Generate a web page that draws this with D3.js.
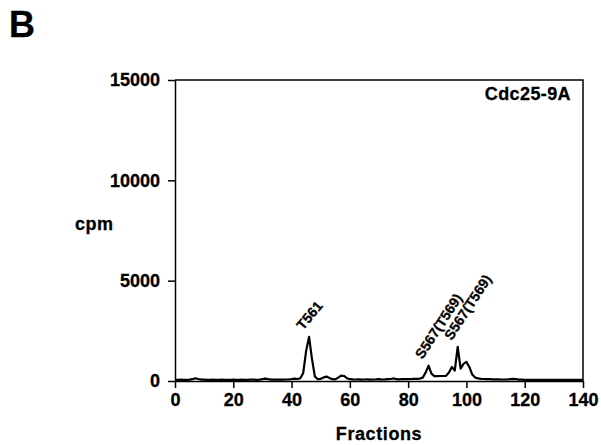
<!DOCTYPE html>
<meta charset="utf-8">
<style>
body { margin: 0; background: #fff; }
text { font-family: "Liberation Sans", Arial, sans-serif; font-weight: bold; fill: #000; stroke: #000; stroke-width: 0.3px; }
.axis path, .axis line { stroke: #000; stroke-width: 1.5px; }
.trace { fill: none; stroke: #000; stroke-width: 2.2px; stroke-linejoin: round; }
</style>
<svg width="601" height="445"></svg>
<script src="https://d3js.org/d3.v7.min.js"></script>
<script>
// cpm per fraction, fractions 0..140
var fractions = d3.range(0, 141);
var cpm = [
  60, 60, 65, 60, 60, 65, 90, 140, 100, 70,
  65, 60, 60, 65, 60, 60, 65, 60, 60, 60,
  65, 60, 60, 65, 60, 60, 65, 65, 60, 70,
  90, 120, 90, 70, 70, 65, 70, 70, 75, 80,
  90, 120, 100, 140, 400, 1500, 2200, 1100, 220, 90,
  110, 180, 220, 150, 90, 80, 170, 270, 250, 140,
  90, 80, 75, 80, 70, 75, 80, 70, 75, 80,
  90, 75, 80, 90, 100, 130, 90, 80, 100, 90,
  90, 100, 110, 110, 120, 170, 420, 760, 370, 240,
  240, 250, 250, 260, 420, 700, 520, 1700, 620, 850,
  950, 700, 320, 170, 130, 110, 100, 90, 90, 80,
  80, 80, 75, 75, 80, 90, 110, 90, 70, 65,
  60, 60, 60, 60, 60, 60, 60, 60, 60, 60,
  60, 60, 60, 60, 60, 60, 60, 60, 60, 60,
  60
];
var xTicks = [0, 20, 40, 60, 80, 100, 120, 140];
var yTicks = [0, 5000, 10000, 15000];
var peakLabels = ["T561", "S567(T569)", "S567(T569)"];
var peakFractions = [46, 87, 97];
var peakAngles = [-50, -57, -57];

var svg = d3.select("svg"),
    margin = {top: 80, right: 18, bottom: 64, left: 175},
    width = svg.attr("width") - margin.left - margin.right,
    height = svg.attr("height") - margin.top - margin.bottom,
    g = svg.append("g").attr("transform", "translate(" + margin.left + "," + margin.top + ")");

var x = d3.scaleLinear().domain([0, 140]).range([0, width]),
    y = d3.scaleLinear().domain([0, 15000]).range([height, 0]);

svg.append("text")
    .attr("x", 9)
    .attr("y", 37)
    .style("font-size", "36px")
    .text("B");

// frame top and right
g.append("path")
    .attr("d", "M0,0H" + width + "V" + height)
    .attr("fill", "none")
    .attr("stroke", "#000")
    .attr("stroke-width", 1.5);

g.append("g")
    .attr("class", "axis")
    .attr("transform", "translate(0," + height + ")")
    .call(d3.axisBottom(x).tickValues(xTicks).tickSize(7).tickSizeOuter(0).tickPadding(5));

g.append("g")
    .attr("class", "axis")
    .call(d3.axisLeft(y).tickValues(yTicks).tickSize(7).tickSizeOuter(0).tickPadding(8).tickFormat(d3.format("d")));

g.selectAll(".axis text")
    .attr("fill", "#000")
    .style("font-size", "18px");

var line = d3.line()
    .x(function(d, i) { return x(fractions[i]); })
    .y(function(d) { return y(d); });

g.append("path")
    .attr("class", "trace")
    .attr("d", line(cpm));

g.selectAll(".peak")
    .data(peakFractions)
  .enter().append("text")
    .attr("class", "peak")
    .attr("transform", function(d, i) {
        return "translate(" + (x(d) - 6) + "," + (y(cpm[d]) - 6) + ") rotate(" + peakAngles[i] + ")";
    })
    .style("font-size", "14px")
    .text(function(d, i) { return peakLabels[i]; });

g.append("text")
    .attr("x", width - 12)
    .attr("y", 20)
    .attr("text-anchor", "end")
    .style("font-size", "18px")
    .style("letter-spacing", "0.4px")
    .text("Cdc25-9A");

svg.append("text")
    .attr("x", 75)
    .attr("y", 230)
    .style("font-size", "18px")
    .style("letter-spacing", "0.5px")
    .text("cpm");

svg.append("text")
    .attr("x", margin.left + width / 2)
    .attr("y", 440)
    .attr("text-anchor", "middle")
    .style("font-size", "18px")
    .style("letter-spacing", "0.6px")
    .text("Fractions");
</script>
